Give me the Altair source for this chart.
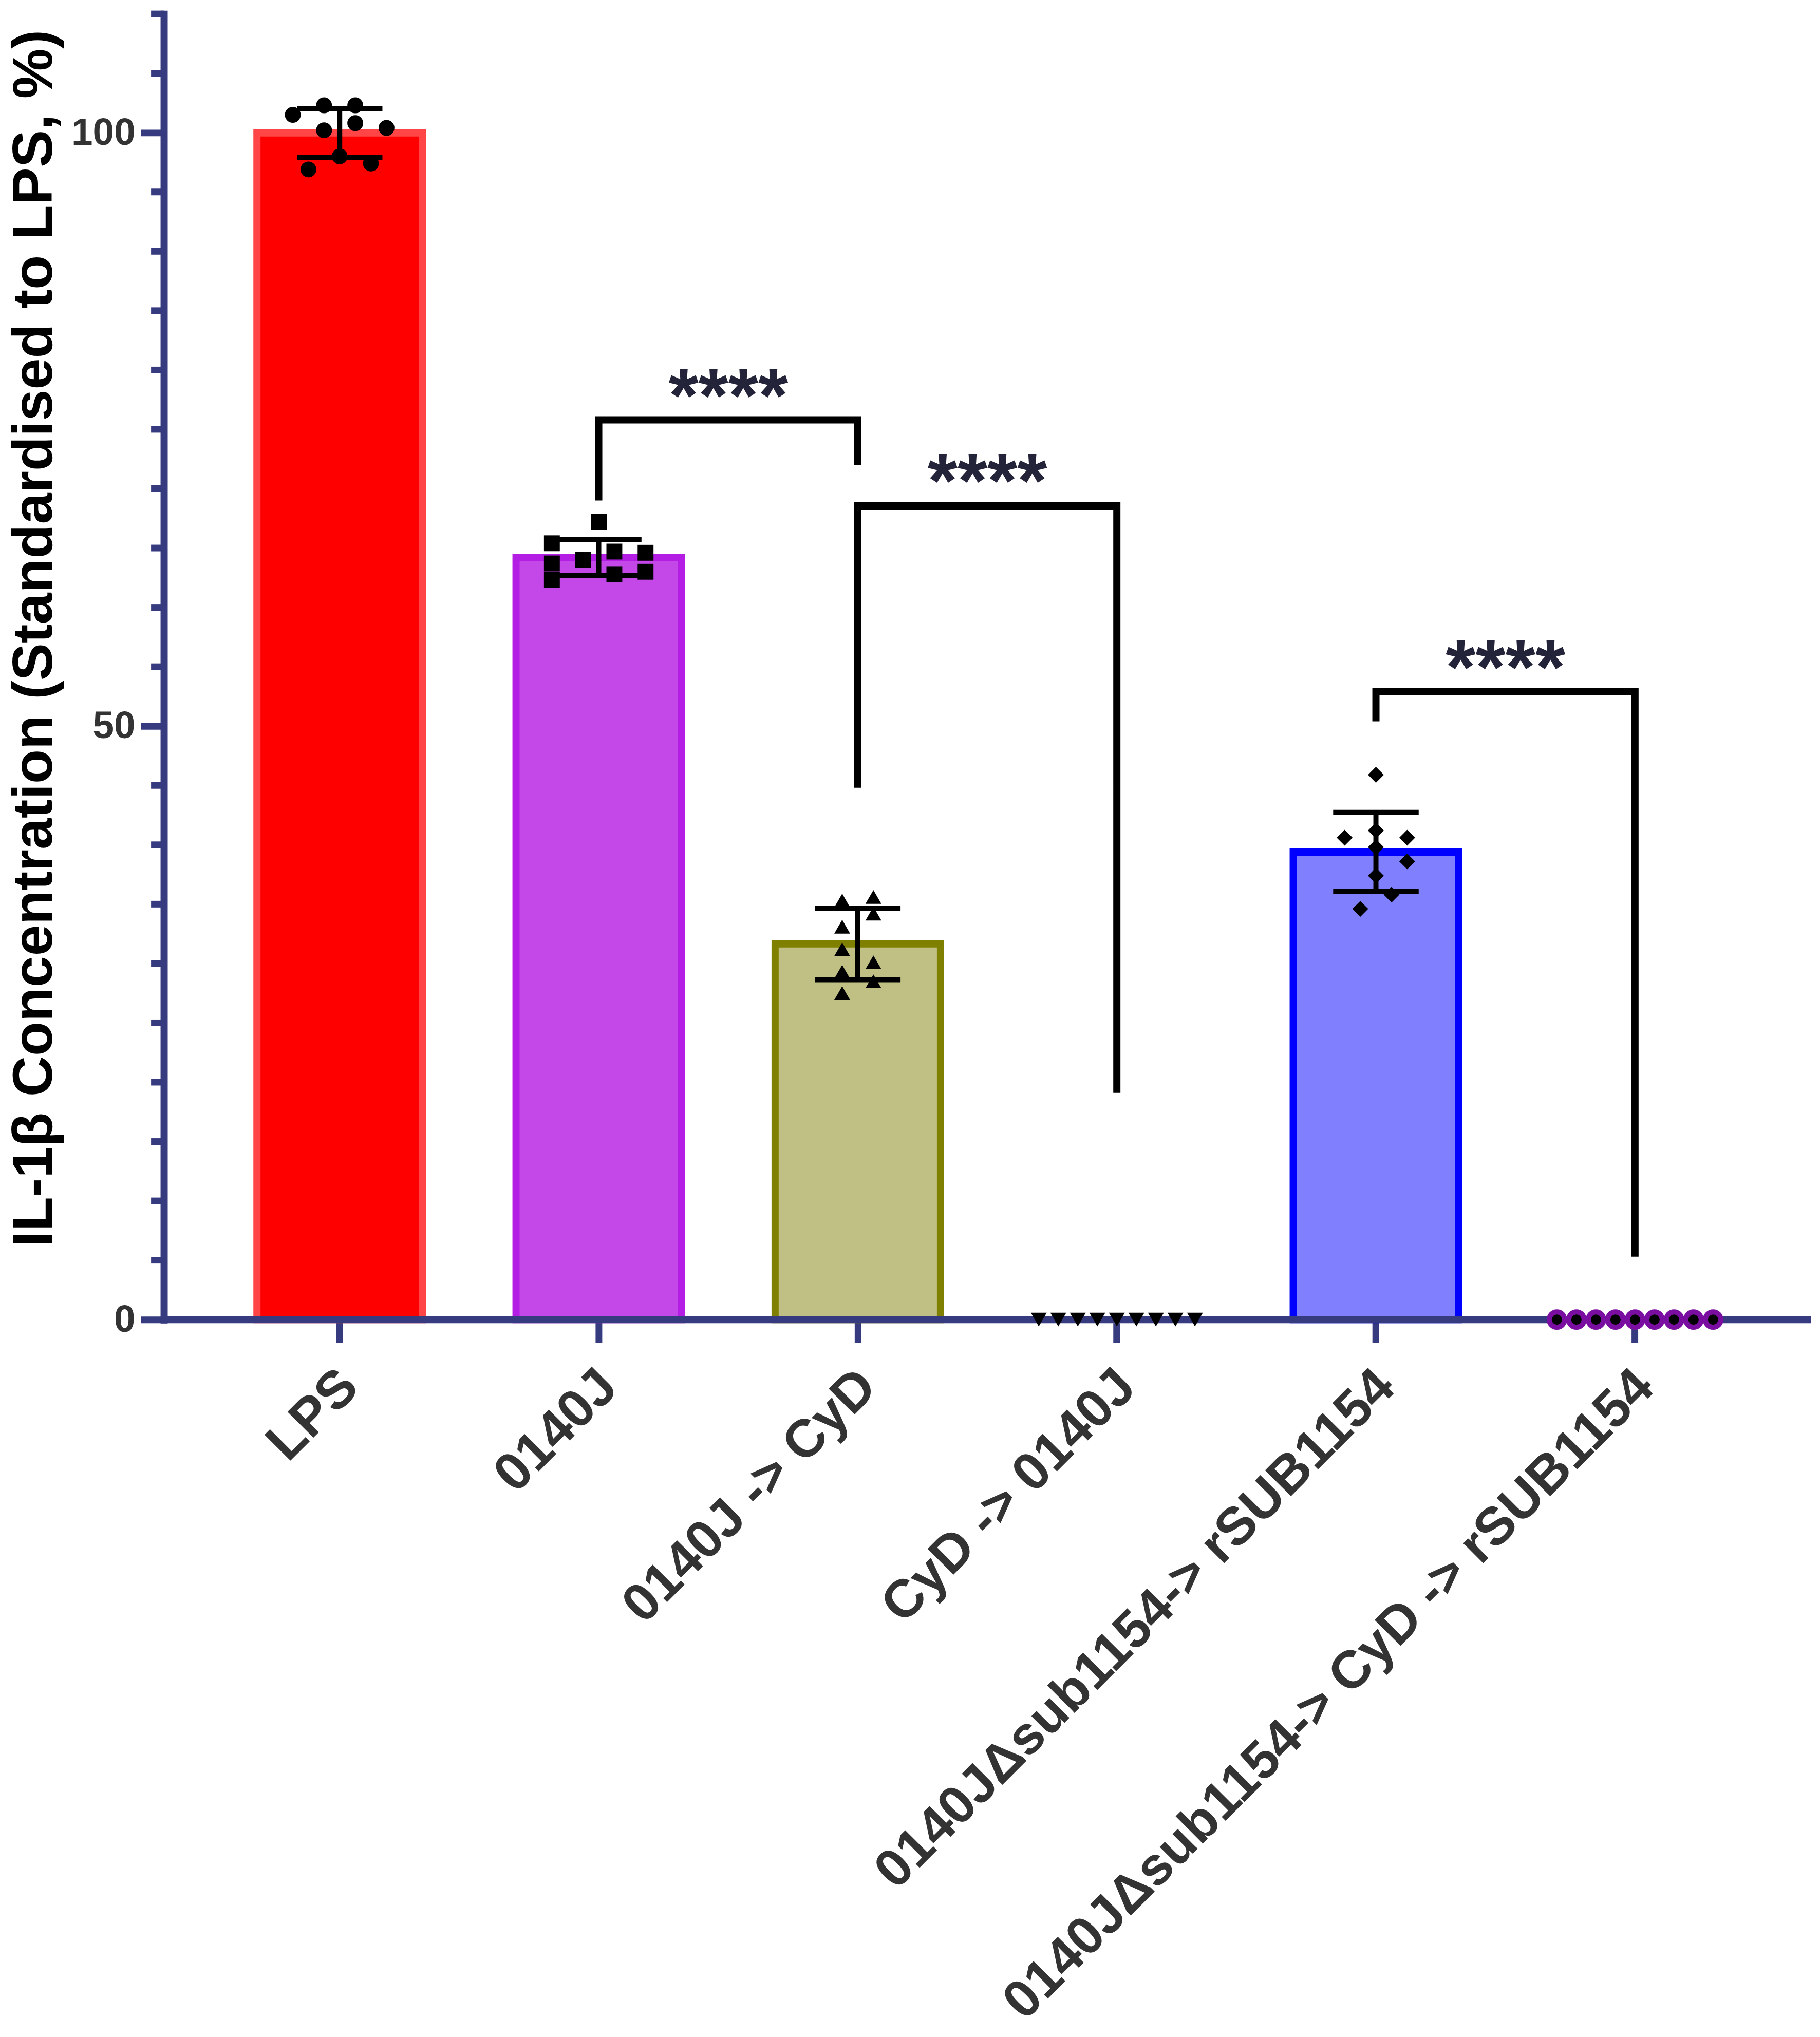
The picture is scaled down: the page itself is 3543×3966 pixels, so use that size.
import altair as alt
import pandas as pd

groups = ["LPS", "0140J", "0140J -> CyD", "CyD -> 0140J",
          "0140JΔsub1154-> rSUB1154", "0140JΔsub1154-> CyD -> rSUB1154"]

# individual replicate values and their horizontal scatter slot
lps_vals = [101.5, 102.3, 102.3, 100.2, 100.8, 100.4, 98.0, 96.9, 97.4]
lps_slots = [-3, -1, 1, -1, 1, 3, 0, -2, 2]
j_vals = [67.2, 65.4, 63.7, 62.3, 64.0, 64.7, 62.8, 64.6, 63.0]
j_slots = [0, -3, -3, -3, -1, 1, 1, 3, 3]
jc_vals = [35.3, 35.6, 34.2, 33.1, 31.2, 30.1, 29.3, 28.5, 27.5]
jc_slots = [-1, 1, 1, -1, -1, 1, -1, 1, -1]
cj_vals = [0, 0, 0, 0, 0, 0, 0, 0, 0]
cj_slots = [-5, -3.75, -2.5, -1.25, 0, 1.25, 2.5, 3.75, 5]
d_vals = [45.9, 40.6, 41.2, 40.6, 39.8, 38.6, 37.4, 35.8, 34.6]
d_slots = [0, -2, 0, 2, 0, 2, 0, 1, -1]
dc_vals = [0, 0, 0, 0, 0, 0, 0, 0, 0]
dc_slots = [-5, -3.75, -2.5, -1.25, 0, 1.25, 2.5, 3.75, 5]

fills = ["#FF0000", "#C447E8", "#C0C084", "#FFFFFF", "#8080FF", "#FFFFFF"]
strokes = ["#FF4545", "#B41EE4", "#808000", "#FFFFFF", "#0000FF", "#FFFFFF"]
shapes = ["circle", "square", "triangle-up", "triangle-down", "diamond", "circle"]
sizes = [961, 961, 1000, 1000, 961, 900]

# significance brackets: (group, value) vertices
br1_groups = ["0140J", "0140J", "0140J -> CyD", "0140J -> CyD"]
br1_vals = [69.0, 75.8, 75.8, 72.0]
br2_groups = ["0140J -> CyD", "0140J -> CyD", "CyD -> 0140J", "CyD -> 0140J"]
br2_vals = [44.8, 68.55, 68.55, 19.1]
br3_groups = ["0140JΔsub1154-> rSUB1154", "0140JΔsub1154-> rSUB1154",
              "0140JΔsub1154-> CyD -> rSUB1154", "0140JΔsub1154-> CyD -> rSUB1154"]
br3_vals = [50.4, 52.9, 52.9, 5.3]
star_groups = ["0140J", "0140J -> CyD", "0140JΔsub1154-> rSUB1154"]
star_vals = [75.6, 68.4, 52.7]
star_text = ["****", "****", "****"]

major_ticks = [0, 50, 100]
minor_ticks = [5, 10, 15, 20, 25, 30, 35, 40, 45, 55, 60, 65, 70, 75, 80, 85, 90, 95, 105, 110]

AX = "#363A7E"
FONT = "Liberation Sans"

rows = []
for g, vals, slots in zip(groups,
                          [lps_vals, j_vals, jc_vals, cj_vals, d_vals, dc_vals],
                          [lps_slots, j_slots, jc_slots, cj_slots, d_slots, dc_slots]):
    for v, s in zip(vals, slots):
        rows.append({"group": g, "value": v, "slot": s})
pts = pd.DataFrame(rows)

brows = []
for bid, (bg, bv) in enumerate([(br1_groups, br1_vals), (br2_groups, br2_vals), (br3_groups, br3_vals)]):
    for i, (g, v) in enumerate(zip(bg, bv)):
        brows.append({"br": bid, "ord": i, "group": g, "value": v})
brk = pd.DataFrame(brows)
stars = pd.DataFrame({"group": star_groups, "value": star_vals, "txt": star_text})
minor_df = pd.DataFrame({"v": minor_ticks})

xscale = alt.Scale(domain=groups, paddingInner=0.361, paddingOuter=0.359)
yscale = alt.Scale(domain=[0, 110], nice=False)

xax = alt.Axis(title=None, labelAngle=-45, labelAlign="right", labelBaseline="middle",
               labelFont=FONT, labelFontSize=104, labelFontWeight="bold", labelColor="#333333",
               labelPadding=70, labelOffset=20, labelLimit=3000,
               domain=False, tickColor=AX, tickSize=45, tickWidth=13)

yax = alt.Axis(values=major_ticks, title="IL-1β Concentration (Standardised to LPS, %)",
               titleFont=FONT, titleFontSize=110, titleFontWeight="bold", titleColor="#000000",
               titleX=-219, titleY=1219, titleAngle=-90, titleAlign="center", titleBaseline="alphabetic",
               labelFont=FONT, labelFontSize=75, labelFontWeight="bold", labelColor="#333333",
               labelPadding=11, domainColor=AX, domainWidth=14, domainCap="square",
               tickColor=AX, tickSize=45, tickWidth=13, grid=False)

X = alt.X("group:N", scale=xscale, sort=groups, axis=xax)

bars = alt.Chart(pts).mark_bar(strokeWidth=14, width=323).encode(
    x=X,
    y=alt.Y("mean(value):Q", scale=yscale, axis=yax),
    fill=alt.Fill("group:N", scale=alt.Scale(domain=groups, range=fills), legend=None),
    stroke=alt.Stroke("group:N", scale=alt.Scale(domain=groups, range=strokes), legend=None),
)

minor = alt.Chart(minor_df).mark_rule(color=AX, strokeWidth=13).encode(
    y=alt.Y("v:Q", scale=yscale), x=alt.value(-25), x2=alt.value(0))

agg = alt.Chart(pts).transform_aggregate(
    m="mean(value)", sd="stdev(value)", groupby=["group"]
).transform_filter("datum.sd > 0").transform_calculate(
    lo="datum.m - datum.sd", hi="datum.m + datum.sd"
)

stem = agg.mark_rule(color="black", strokeWidth=10, opacity=1).encode(
    x=X, y=alt.Y("lo:Q", scale=yscale), y2="hi:Q")
cap_lo = agg.mark_tick(color="black", size=167, thickness=10, opacity=1).encode(
    x=X, y=alt.Y("lo:Q", scale=yscale))
cap_hi = agg.mark_tick(color="black", size=167, thickness=10, opacity=1).encode(
    x=X, y=alt.Y("hi:Q", scale=yscale))

baseline = alt.Chart(pd.DataFrame({"v": [0]})).mark_rule(color=AX, strokeWidth=14).encode(
    y=alt.Y("v:Q", scale=yscale))

points = alt.Chart(pts).transform_filter(
    alt.datum.group != groups[5]
).mark_point(filled=True, opacity=1, color="black").encode(
    x=X,
    xOffset=alt.XOffset("slot:Q", scale=alt.Scale(domain=[-5.3, 5.3])),
    y=alt.Y("value:Q", scale=yscale),
    shape=alt.Shape("group:N", scale=alt.Scale(domain=groups, range=shapes), legend=None),
    size=alt.Size("group:N", scale=alt.Scale(domain=groups, range=sizes), legend=None),
)

points_last = alt.Chart(pts).transform_filter(
    alt.datum.group == groups[5]
).mark_point(shape="circle", size=900, fill="black", stroke="#7A0EA0", strokeWidth=10,
             opacity=1, fillOpacity=1, strokeOpacity=1).encode(
    x=X,
    xOffset=alt.XOffset("slot:Q", scale=alt.Scale(domain=[-5.3, 5.3])),
    y=alt.Y("value:Q", scale=yscale),
)

brackets = alt.Chart(brk).mark_line(color="black", strokeWidth=14, strokeJoin="miter", strokeCap="butt").encode(
    x=X,
    y=alt.Y("value:Q", scale=yscale),
    detail="br:N",
    order="ord:Q",
)

star_marks = alt.Chart(stars).mark_text(font=FONT, fontSize=150, fontWeight="bold", color="#23233A",
                                        baseline="alphabetic", align="center", dx=253).encode(
    x=X,
    y=alt.Y("value:Q", scale=yscale),
    text="txt:N",
)

chart = alt.layer(bars, minor, stem, cap_lo, cap_hi, baseline, points, points_last, brackets, star_marks).resolve_scale(
    fill="independent", stroke="independent"
).properties(
    width=3216, height=2550,
    padding={"left": 312, "top": 13, "right": 10, "bottom": 1393},
    autosize=alt.AutoSizeParams(type="none"),
    background="white",
).configure_view(stroke=None)

chart.save("out.html", embed_options={"renderer": "svg", "actions": False})
